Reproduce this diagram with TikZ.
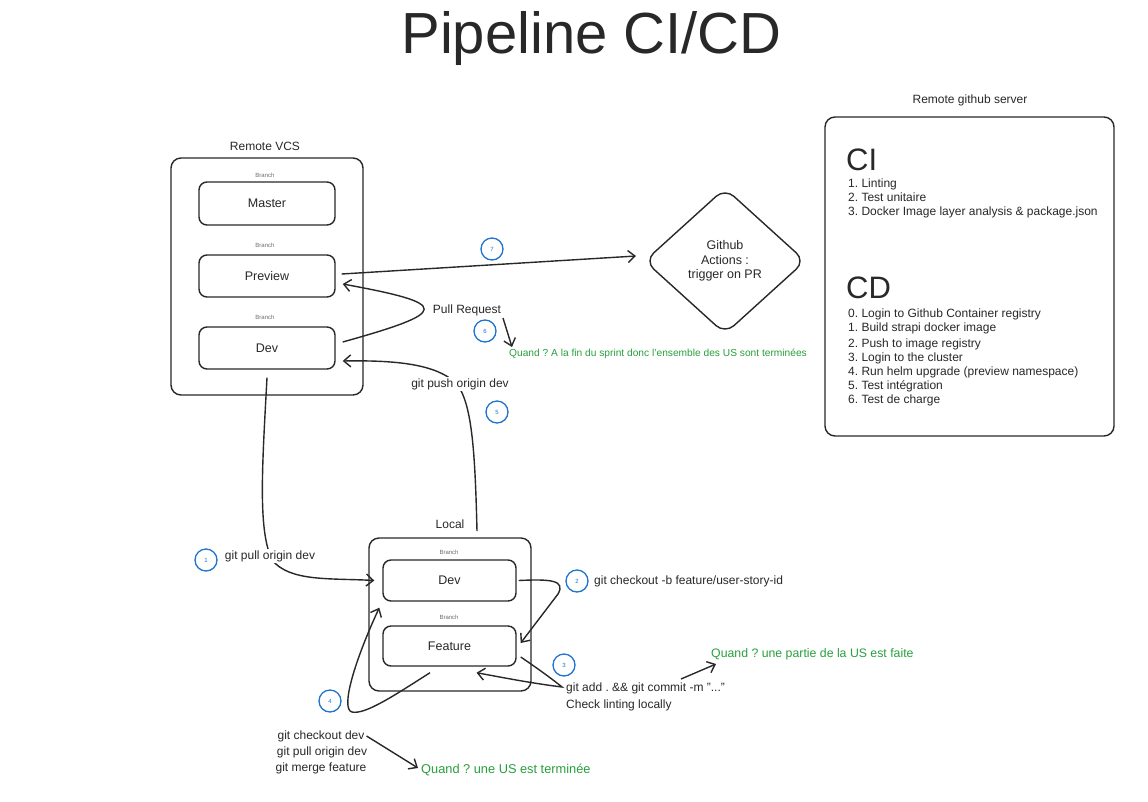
\documentclass[tikz,border=0pt]{standalone}
\usepackage{fontspec}
\setmainfont{Liberation Sans}
\usetikzlibrary{arrows.meta,shapes.geometric}
\definecolor{ink}{RGB}{40,40,40}
\definecolor{stepblue}{RGB}{30,115,205}
\definecolor{qgreen}{RGB}{40,160,60}
\definecolor{branchgray}{RGB}{110,110,110}
\frenchspacing
\tikzset{
  container/.style={draw=ink, line width=1.4pt, rounded corners=10pt, inner sep=0pt},
  branchbox/.style={draw=ink, line width=1.4pt, rounded corners=8pt, inner sep=0pt,
    text=ink, font=\fontsize{12.5}{14}\selectfont},
  branchlbl/.style={text=branchgray, font=\fontsize{6}{7}\selectfont, inner sep=0pt},
  lbl/.style={text=ink, font=\fontsize{12}{14}\selectfont, inner sep=0pt},
  listitem/.style={text=ink, font=\fontsize{12}{14}\selectfont, inner sep=0pt,
    anchor=west, text height=9pt, text depth=2.5pt},
  greenlbl/.style={text=qgreen, inner sep=0pt, anchor=west},
  stepnum/.style={circle, draw=stepblue, line width=1.3pt, minimum size=22pt, inner sep=0pt,
    text=stepblue, font=\fontsize{6}{6}\selectfont},
  conn/.style={draw=ink, line width=1.4pt, -{Straight Barb[length=7pt,width=12pt]}},
}
\begin{document}
\begin{tikzpicture}[x=1pt,y=-1pt]
\useasboundingbox (0,0) rectangle (1148,801);
\fill[white] (0,0) rectangle (1148,801);

% title
\node[text=ink, font=\fontsize{58}{60}\selectfont, inner sep=0pt, anchor=base] (title) at (591.5,53) {Pipeline CI/CD};

% ---------------- Remote VCS
\node[lbl] (vcslbl) at (265,146) {Remote VCS};
\node[container, minimum width=192pt, minimum height=237pt] (vcs) at (267,276.5) {};
\node[branchlbl] (bl1) at (265,175) {Branch};
\node[branchbox, minimum width=136pt, minimum height=43pt] (master) at (267,203.5) {Master};
\node[branchlbl] (bl2) at (265,245) {Branch};
\node[branchbox, minimum width=136pt, minimum height=42pt] (preview) at (267,276) {Preview};
\node[branchlbl] (bl3) at (265,317) {Branch};
\node[branchbox, minimum width=136pt, minimum height=42pt] (rdev) at (267,348) {Dev};

% ---------------- Github actions diamond
\node[diamond, draw=ink, line width=1.4pt, rounded corners=12pt, inner sep=0pt,
      minimum width=161pt, minimum height=146pt, align=center, text=ink,
      font=\fontsize{12.5}{14.5}\selectfont] (gha) at (725,261) {Github\\Actions :\\trigger on PR};

% ---------------- Remote github server
\node[lbl] (srvlbl) at (970,100) {Remote github server};
\node[container, minimum width=289pt, minimum height=319pt] (srv) at (969.5,276.5) {};
\node[text=ink, font=\fontsize{31}{32}\selectfont, inner sep=0pt, anchor=base west] (ci) at (846,170) {CI};
\node[listitem] (ci1) at (848,184) {1. Linting};
\node[listitem] (ci2) at (848,198) {2. Test unitaire};
\node[listitem] (ci3) at (848,212) {3. Docker Image layer analysis \& package.json};
\node[text=ink, font=\fontsize{31}{32}\selectfont, inner sep=0pt, anchor=base west] (cd) at (846,298) {CD};
\node[listitem] (cd0) at (848,314) {0. Login to Github Container registry};
\node[listitem] (cd1) at (848,328) {1. Build strapi docker image};
\node[listitem] (cd2) at (848,344) {2. Push to image registry};
\node[listitem] (cd3) at (848,358) {3. Login to the cluster};
\node[listitem] (cd4) at (848,372) {4. Run helm upgrade (preview namespace)};
\node[listitem] (cd5) at (848,386) {5. Test intégration};
\node[listitem] (cd6) at (848,400) {6. Test de charge};

% ---------------- Local
\node[lbl] (locallbl) at (450,524) {Local};
\node[container, minimum width=162pt, minimum height=153pt] (local) at (450,614.5) {};
\node[branchlbl] (bl4) at (449,552) {Branch};
\node[branchbox, minimum width=133pt, minimum height=41pt] (ldev) at (449.5,580.5) {Dev};
\node[branchlbl] (bl5) at (449,617) {Branch};
\node[branchbox, minimum width=133pt, minimum height=40pt] (feature) at (449.5,646) {Feature};

% ---------------- connectors
% 7 : preview -> github actions
\coordinate (ghain) at (636,256);
\draw[conn] ([xshift=6pt,yshift=2pt]preview.east) -- (ghain);
\node[stepnum] (s7) at (492,249) {7};

% 6 : pull request dev -> preview
\draw[conn] ([xshift=7pt,yshift=6pt]rdev.east) .. controls (450,312) and (452,304) .. ([xshift=7pt,yshift=-8pt]preview.east);
\node[lbl] (prlbl) at (467,310) {Pull Request};
\node[stepnum] (s6) at (485,331) {6};
\coordinate (q6a) at (503,318);
\coordinate (q6b) at (512,347);
\draw[conn] (q6a) -- (q6b);
\node[greenlbl, font=\fontsize{10.2}{12}\selectfont] (q6) at (509,354) {Quand ? A la fin du sprint donc l'ensemble des US sont terminées};

% 5 : git push origin dev (local -> remote dev)
\coordinate (pushstart) at (477,531);
\coordinate (pushmid) at (455,382);
\draw[conn] (pushstart) .. controls (475,450) and (472,400) .. (pushmid)
  .. controls (435,365) and (400,360) .. ([xshift=7pt,yshift=-13pt]rdev.east);
\node[lbl, fill=white, inner sep=1pt] (pushlbl) at (460,384) {git push origin dev};
\node[stepnum] (s5) at (497,412) {5};

% 1 : git pull origin dev (remote dev -> local dev)
\coordinate (pullmid) at (272,560);
\draw[conn] ([yshift=-8pt]rdev.south) .. controls (262,470) and (258,530) .. (pullmid)
  .. controls (290,582) and (330,578) .. ([xshift=-8pt]ldev.west);
\node[lbl, fill=white, inner sep=1pt] (pulllbl) at (270,556) {git pull origin dev};
\node[stepnum] (s1) at (206,560) {1};

% 2 : git checkout -b
\coordinate (c2) at (558,594);
\draw[conn] ([xshift=2pt]ldev.east) .. controls (550,579) and (566,580) .. (c2)
  -- ([xshift=4pt,yshift=3pt]feature.east);
\node[stepnum] (s2) at (577,581) {2};
\node[lbl, anchor=west] (co) at (594,581) {git checkout -b feature/user-story-id};

% 3 : git add / commit
\coordinate (c3) at (562,687);
\draw[conn] ([xshift=4pt,yshift=-11pt]feature.east) .. controls (540,670) and (556,682) .. (c3)
  .. controls (530,683) and (500,677) .. ([xshift=27pt,yshift=-6pt]feature.south);
\node[stepnum] (s3) at (564,665) {3};
\node[lbl, anchor=west] (add1) at (566,688) {git add . \&\& git commit -m "..."};
\node[lbl, anchor=west] (add2) at (566,705) {Check linting locally};
\coordinate (q3a) at (681,679);
\coordinate (q3b) at (716,664);
\draw[conn] (q3a) -- (q3b);
\node[greenlbl, font=\fontsize{12.3}{14}\selectfont] (q3) at (711,654) {Quand ? une partie de la US est faite};

% 4 : merge feature into dev
\coordinate (c4) at (352,712);
\draw[conn] ([xshift=-19.5pt,yshift=-6pt]feature.south) .. controls (395,695) and (365,715) .. (c4)
  .. controls (340,709) and (355,660) .. ([xshift=-3pt,yshift=-6pt]ldev.south west);
\node[stepnum] (s4) at (330,701) {4};
\node[lbl] (m1) at (321,736) {git checkout dev};
\node[lbl] (m2) at (322,752) {git pull origin dev};
\node[lbl] (m3) at (321,768) {git merge feature};
\coordinate (q4b) at (418,768);
\draw[conn] ([xshift=2pt]m1.east) -- (q4b);
\node[greenlbl, font=\fontsize{12.8}{14}\selectfont] (q4) at (421,770) {Quand ? une US est terminée};

\end{tikzpicture}
\end{document}
